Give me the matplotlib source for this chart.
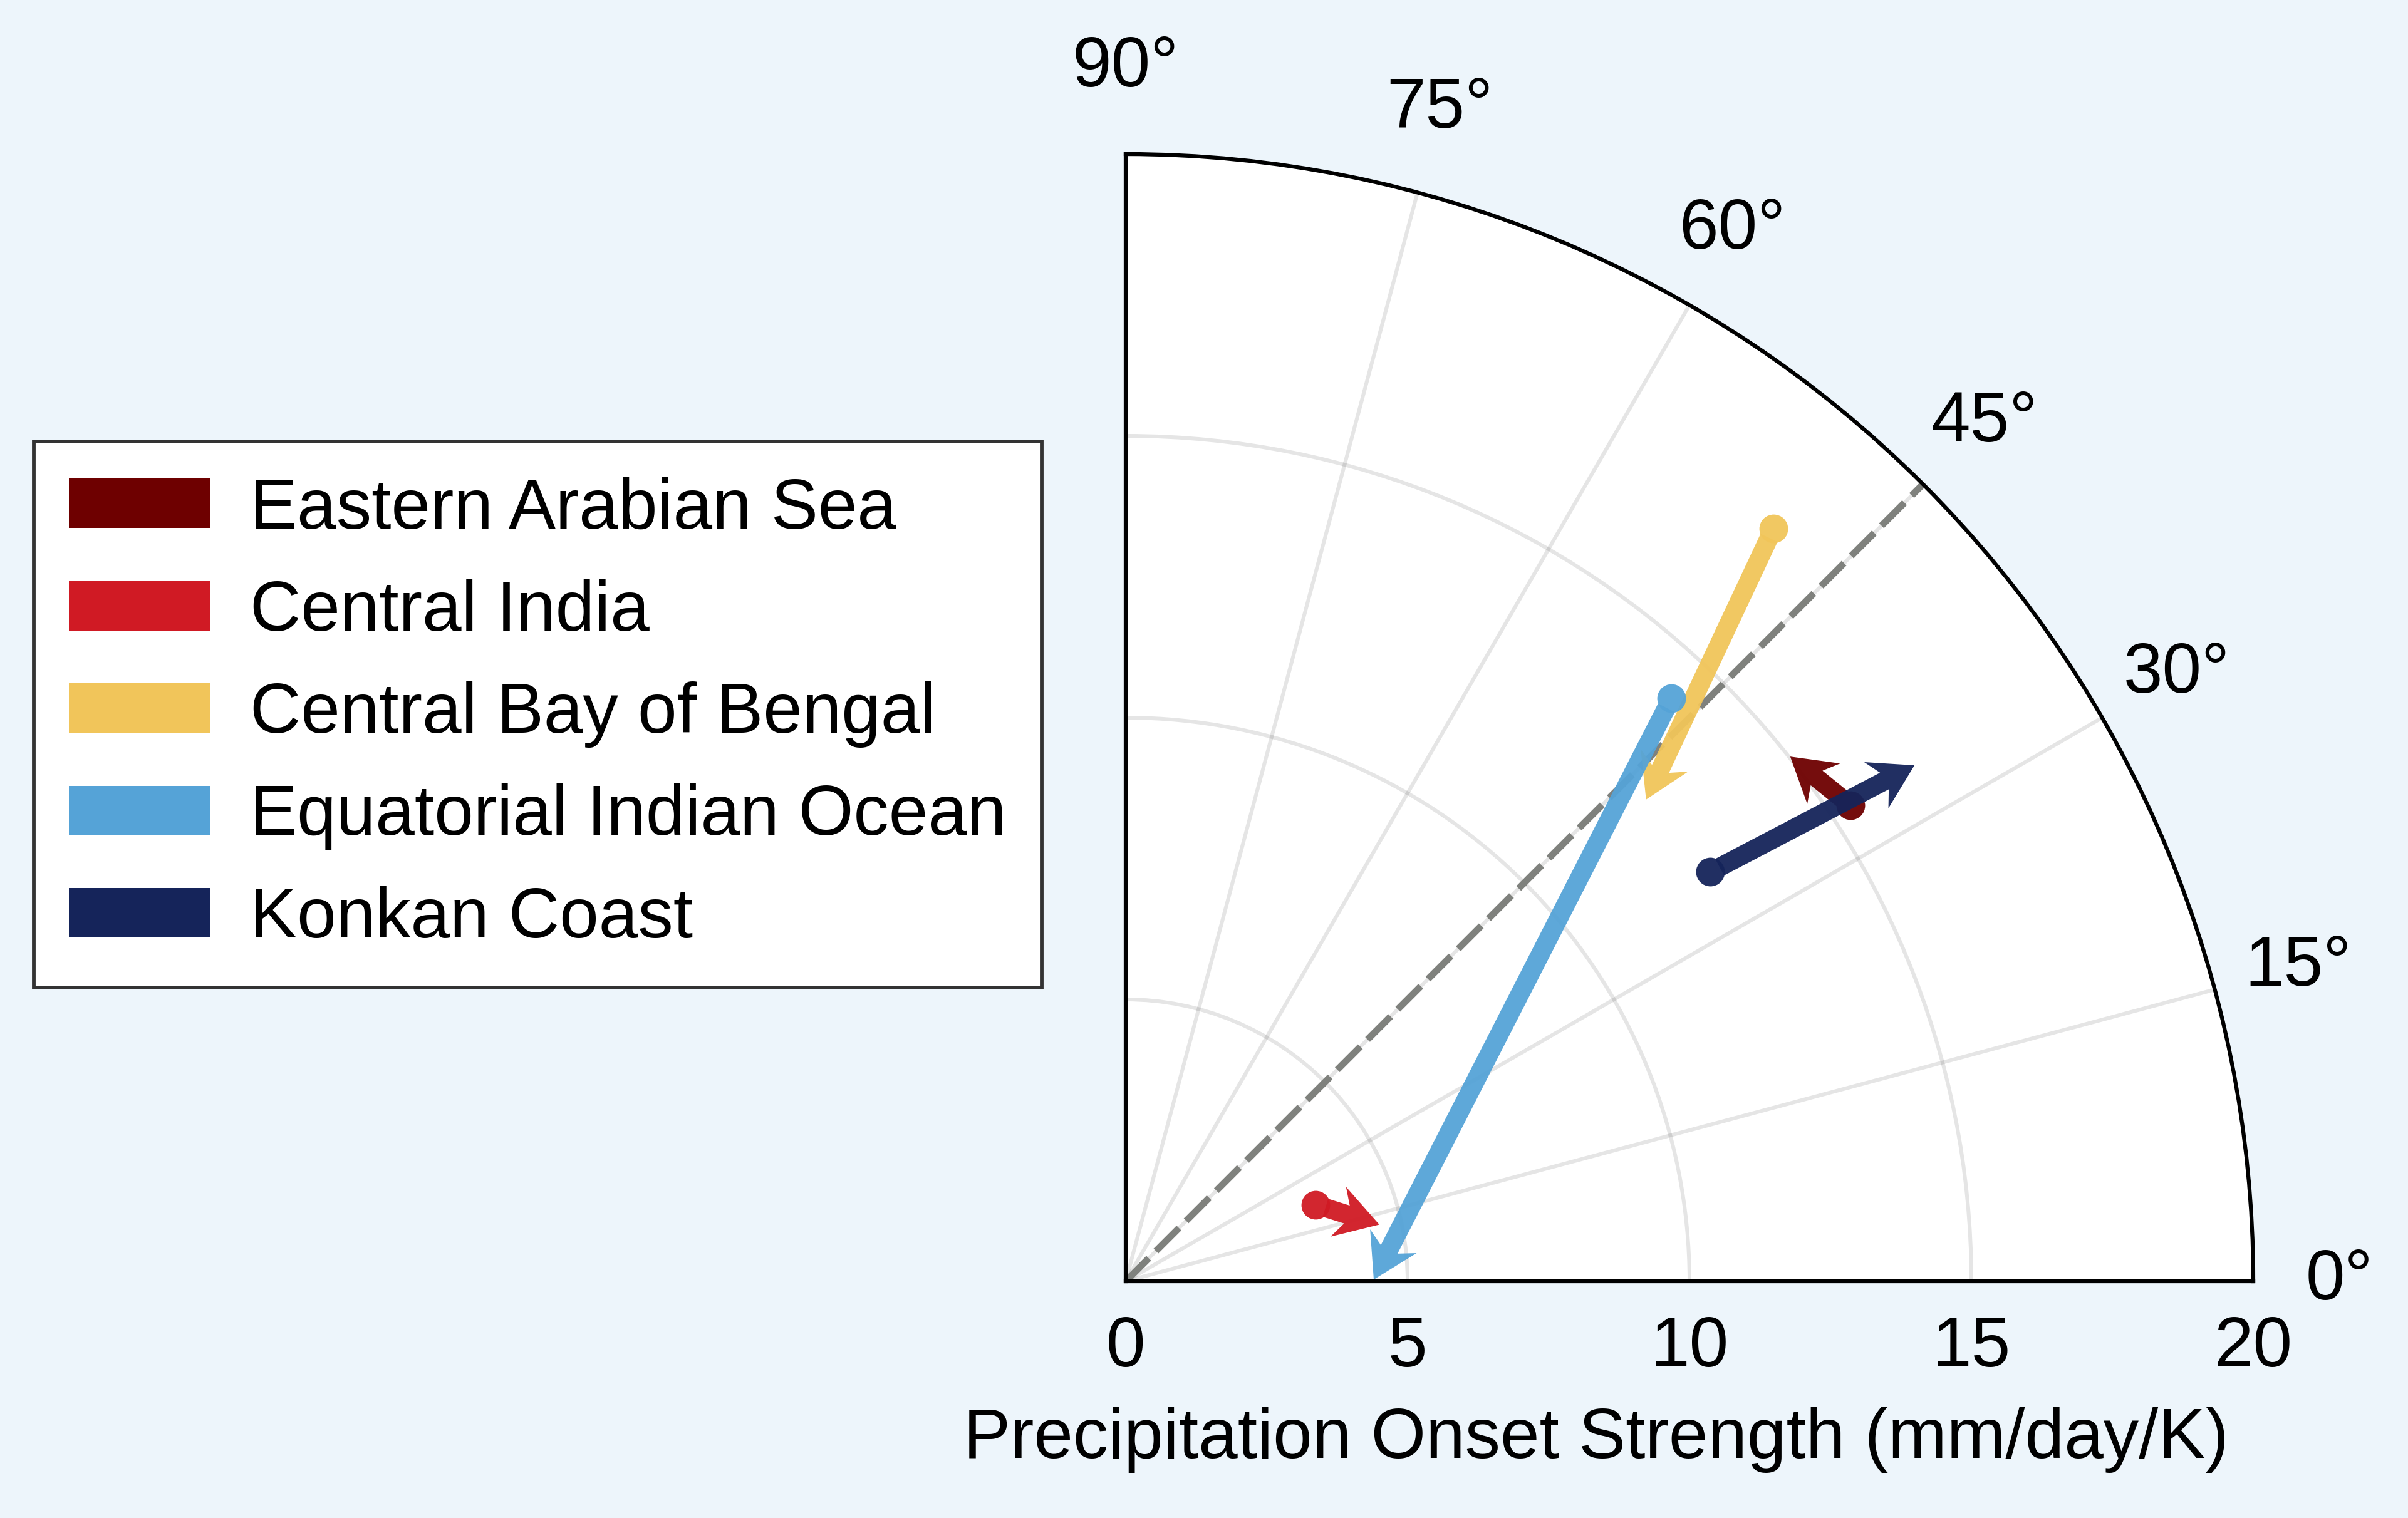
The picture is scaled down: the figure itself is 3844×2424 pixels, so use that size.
import numpy as np
import matplotlib
matplotlib.use('Agg')
import matplotlib.pyplot as plt
from matplotlib.patches import ArrowStyle, FancyArrowPatch, Patch
from matplotlib.path import Path

plt.rcParams['font.family'] = ['Liberation Sans', 'DejaVu Sans']

# regions: start point (dot) -> end point (arrow tip), angle in degrees, r in mm/day/K
regions = ['Eastern Arabian Sea', 'Central India', 'Central Bay of Bengal',
           'Equatorial Indian Ocean', 'Konkan Coast']
colors = ['#6E0000', '#D01A24', '#F1C55A', '#55A3D7', '#15245A']
r_start = [15.38, 3.63, 17.62, 14.16, 12.66]
ang_start = [33.3, 22.0, 49.3, 46.9, 35.0]
r_end = [15.02, 4.61, 12.58, 4.40, 16.72]
ang_end = [38.3, 12.6, 42.8, 0.4, 33.2]

theta_ticks = [0, 15, 30, 45, 60, 75, 90]
r_ticks = [0, 5, 10, 15, 20]
r_max = 20


class NotchedArrow(ArrowStyle._Base):
    # straight shaft + stealth-like head, sizes in points
    def __init__(self, shaft=7.2, head_len=16.5, head_half=10.0, notch=13.0):
        self.shaft = shaft
        self.head_len = head_len
        self.head_half = head_half
        self.notch = notch
        super().__init__()

    def transmute(self, path, mutation_size, linewidth):
        (x0, y0), (x1, y1) = path.vertices[0], path.vertices[-1]
        length = np.hypot(x1 - x0, y1 - y0)
        ux, uy = (x1 - x0) / length, (y1 - y0) / length
        px, py = -uy, ux
        s = mutation_size
        w = self.shaft / 2 * s
        hw = self.head_half * s
        bx, by = x1 - self.notch * s * ux, y1 - self.notch * s * uy
        cx, cy = x1 - self.head_len * s * ux, y1 - self.head_len * s * uy
        verts = [(x0 + w * px, y0 + w * py), (bx + w * px, by + w * py),
                 (cx + hw * px, cy + hw * py), (x1, y1),
                 (cx - hw * px, cy - hw * py), (bx - w * px, by - w * py),
                 (x0 - w * px, y0 - w * py), (x0 + w * px, y0 + w * py)]
        codes = [Path.MOVETO] + [Path.LINETO] * 6 + [Path.CLOSEPOLY]
        return Path(verts, codes), True


bg = '#EDF5FB'
fig = plt.figure(figsize=(3844 / 300, 2424 / 300), dpi=300, facecolor=bg)
ax = fig.add_axes([0.46748, 0.15594, 0.46826, 0.74257], projection='polar')
ax.set_facecolor('white')
ax.set_thetamin(0)
ax.set_thetamax(90)
ax.set_rlim(0, r_max)

ax.set_thetagrids(theta_ticks, [f'{t}°' for t in theta_ticks])
ax.set_rticks(r_ticks)
ax.set_yticklabels([str(t) for t in r_ticks])
ax.grid(True, color='black', alpha=0.1, lw=1.45)
ax.tick_params(axis='x', labelsize=27, pad=26, length=0)
ax.tick_params(axis='y', labelsize=27, pad=13, length=0)
for sp in ax.spines.values():
    sp.set_linewidth(1.5)
    sp.set_color('black')

# 45 degree reference line
ax.plot(np.deg2rad([45, 45]), [0, r_max], color='#7F817D', lw=2.6,
        dashes=(4.8, 1.5), zorder=2.5)

for i in range(len(regions)):
    arr = FancyArrowPatch(posA=(np.deg2rad(ang_start[i]), r_start[i]),
                          posB=(np.deg2rad(ang_end[i]), r_end[i]),
                          arrowstyle=NotchedArrow(), mutation_scale=1,
                          shrinkA=4.0, shrinkB=0, transform=ax.transData,
                          facecolor=colors[i], edgecolor='none', lw=0,
                          alpha=0.95, zorder=4 + i)
    ax.add_patch(arr)
    ax.plot(np.deg2rad(ang_start[i]), r_start[i], 'o', ms=11, mew=0,
            color=colors[i], alpha=0.95, zorder=4 + i)

fig.text(2548 / 3844, 96 / 2424, 'Precipitation Onset Strength (mm/day/K)',
         ha='center', va='baseline', fontsize=27)

handles = [Patch(facecolor=c, edgecolor='none') for c in colors]
leg = fig.legend(handles, regions, loc='upper left',
                 bbox_to_anchor=(54 / 3844, 1 - 705 / 2424),
                 bbox_transform=fig.transFigure, borderaxespad=0,
                 fontsize=27, frameon=True, fancybox=False, framealpha=1,
                 edgecolor='#333333', borderpad=0.5, labelspacing=0.51,
                 handlelength=2.0, handleheight=0.7, handletextpad=0.57)
leg.get_frame().set_linewidth(1.4)

fig.savefig('out.png', dpi=300, facecolor=bg)
